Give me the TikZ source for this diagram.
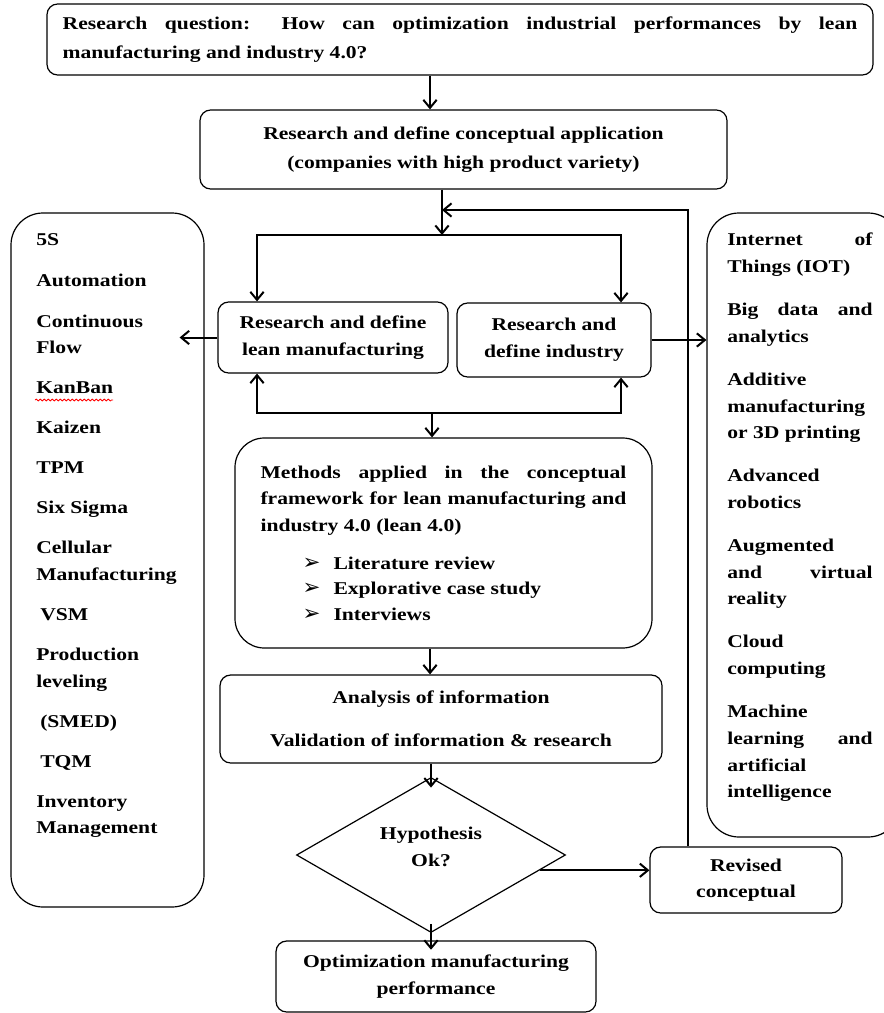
\documentclass[tikz,border=0pt]{standalone}
\usepackage{fontspec}
\setmainfont{Liberation Serif}[FakeStretch=1.2]
\newfontfamily\bulletfont{DejaVu Sans}
\usetikzlibrary{arrows.meta,shapes.geometric,decorations.pathmorphing}
\newcommand\bul{\makebox[23.25pt][l]{\bulletfont\mdseries\fontsize{16}{16}\selectfont ➢}}

\begin{document}
\begin{tikzpicture}[x=0.75pt,y=-0.75pt,
       font=\fontsize{13.5}{20}\selectfont\bfseries,
       box/.style={draw,line width=0.9pt,rounded corners=8pt,inner sep=0pt,align=center},
       bigbox/.style={box,rounded corners=24pt},
       itemlist/.style={inner sep=0pt,align=left,anchor=north west},
       arr/.style={line width=1.5pt,-{Straight Barb[length=6pt,width=10pt]}}]
       \useasboundingbox (0,0) rectangle (883,1013);
       \node[box,align=left,minimum width=619.5pt,minimum height=53.25pt] (question) at (460,39.5)
            {\makebox[596pt][s]{Research question: How can optimization industrial performances by lean}\\[2pt]manufacturing and industry 4.0?};
       \node[box,minimum width=395.25pt,minimum height=59.25pt] (concept) at (463.5,149.5)
            {Research and define conceptual application\\[2pt](companies with high product variety)};
       \node[box,minimum width=172.5pt,minimum height=53.25pt] (lean) at (333,337.5) {Research and define\\lean manufacturing};
       \node[box,minimum width=145.5pt,minimum height=55.5pt] (industry) at (554,340) {Research and\\define industry};
       \node[box,align=left,rounded corners=22pt,minimum width=312.75pt,minimum height=157.5pt] (methods) at (443.5,543)
            {\makebox[274.5pt][s]{Methods applied in the conceptual}\\
             \makebox[274.5pt][s]{framework for lean manufacturing and}\\
             industry 4.0 (lean 4.0)\\[8.5pt]
             \hspace*{31.5pt}\bul Literature review\\[-1pt]
             \hspace*{31.5pt}\bul Explorative case study\\[-1pt]
             \hspace*{31.5pt}\bul Interviews};
       \node[box,minimum width=331.5pt,minimum height=66pt] (analysis) at (441,719)
            {Analysis of information\\[12pt]Validation of information \& research};
       \node[draw,line width=0.9pt,diamond,aspect=1.735,inner sep=0pt,align=center,
             minimum width=201.75pt,minimum height=116.25pt] (hyp) at (431,855) {Hypothesis\\Ok?\\[-8pt]\mbox{}};
       \node[box,minimum width=144pt,minimum height=49.5pt] (revised) at (746,880) {Revised\\conceptual};
       \node[box,minimum width=240pt,minimum height=53.25pt] (optim) at (436,976.5) {Optimization manufacturing\\performance};

       \node[bigbox,minimum width=144.75pt,minimum height=520.5pt] (leftbox) at (107.5,560) {};
       \node[itemlist] (leanlist) at (36,233)
            {5S\\[10.8pt]Automation\\[10.8pt]Continuous\\Flow\\[10pt]KanBan\\[10pt]Kaizen\\[10pt]TPM\\[10pt]%
             Six Sigma\\[10pt]Cellular\\Manufacturing\\[10pt]\hspace*{3pt}VSM\\[10pt]Production\\leveling\\[10pt]%
             \hspace*{3pt}(SMED)\\[10pt]\hspace*{3pt}TQM\\[10pt]Inventory\\Management};
       \node[bigbox,minimum width=144.75pt,minimum height=468pt] (rightbox) at (803.5,525) {};
       \node[itemlist] (techlist) at (727,233)
            {\makebox[109pt][s]{Internet of}\\Things (IOT)\\[12.3pt]\makebox[109pt][s]{Big data and}\\analytics\\[12.3pt]%
             Additive\\manufacturing\\or 3D printing\\[12.3pt]Advanced\\robotics\\[12.3pt]%
             Augmented\\\makebox[109pt][s]{and virtual}\\reality\\[12.3pt]Cloud\\computing\\[12.3pt]%
             Machine\\\makebox[109pt][s]{learning and}\\artificial\\intelligence};

       \coordinate (qa)     at (430,0);
       \coordinate (laneL)  at (257,0);
       \coordinate (laneR)  at (621,0);
       \coordinate (splitT) at (442,235);
       \coordinate (splitB) at (432,413);
       \coordinate (loop)   at (688,210);
       \draw[arr] (question.south -| qa) -- (concept.north -| qa);
       \draw[arr] (concept.south -| splitT) -- (splitT);
       \draw[arr] (splitT) -| (lean.north -| laneL);
       \draw[arr] (splitT) -| (industry.north -| laneR);
       \draw[arr] (revised.north -| loop) |- (splitT |- loop);
       \draw[arr,shorten >=-18.75pt] (lean.west) -- (lean.west -| leftbox.east);
       \draw[arr] (industry.east) -- (industry.east -| rightbox.west);
       \draw[arr] (splitB) -| (lean.south -| laneL);
       \draw[arr] (splitB) -| (industry.south -| laneR);
       \draw[arr] (splitB) -- (methods.north -| splitB);
       \draw[arr] (methods.south -| qa) -- (analysis.north -| qa);
       \draw[arr,shorten >=-8pt] (analysis.south -| hyp.north) -- (hyp.north);
       \draw[arr] (hyp.-8) -- (hyp.-8 -| revised.west);
       \draw[arr,shorten <=-7pt,shorten >=-7pt] (hyp.south) -- (optim.north -| hyp.south);
       \draw[red,line width=0.6pt,decorate,decoration={snake,amplitude=0.7pt,segment length=3pt}] (35,400) -- (113,400);
\end{tikzpicture}
\end{document}
